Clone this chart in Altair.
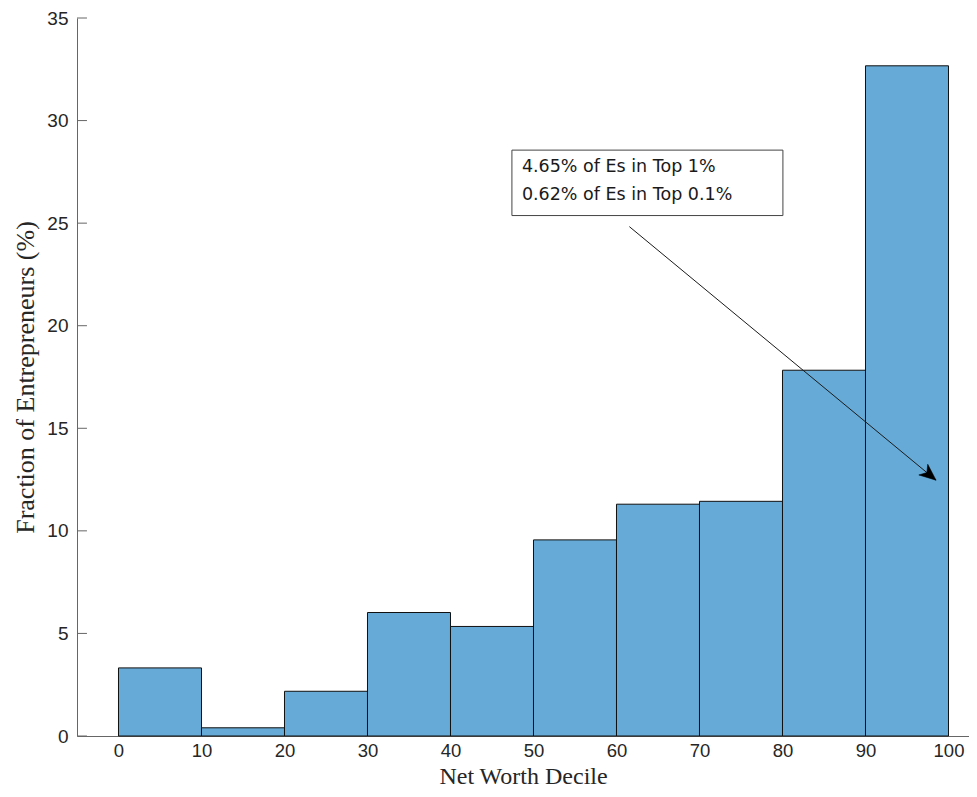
import altair as alt
import pandas as pd

# ---- data ----
bin_start = [0, 10, 20, 30, 40, 50, 60, 70, 80, 90]
bin_end = [10, 20, 30, 40, 50, 60, 70, 80, 90, 100]
fraction = [3.32, 0.40, 2.18, 6.02, 5.34, 9.56, 11.30, 11.44, 17.83, 32.67]

y_ticks = [0, 5, 10, 15, 20, 25, 30, 35]
x_ticks = [0, 10, 20, 30, 40, 50, 60, 70, 80, 90, 100]

note_lines = ["4.65% of Es in Top 1%", "0.62% of Es in Top 0.1%"]
note_y = [27.75, 26.39]
note_x = 48.6
box = {"x": 47.4, "x2": 80.05, "y": 25.37, "y2": 28.56}
arrow = {"x": 61.55, "y": 24.83, "x2": 98.5, "y2": 12.47}

X_DOM = [-5, 102.47]
Y_DOM = [0, 35]

bars_df = pd.DataFrame({"start": bin_start, "end": bin_end, "frac": fraction})
ticks_df = pd.DataFrame({"v": y_ticks, "x0": [X_DOM[0]] * len(y_ticks),
                         "x1": [X_DOM[0] + 1.2] * len(y_ticks)})
note_df = pd.DataFrame({"t": note_lines, "y": note_y, "x": [note_x] * 2})
box_df = pd.DataFrame([box])
arrow_df = pd.DataFrame([arrow])
head_df = pd.DataFrame([{"x": arrow["x2"], "y": arrow["y2"]}])

xs = alt.Scale(domain=X_DOM, nice=False, zero=False)
ys = alt.Scale(domain=Y_DOM, nice=False, zero=False)

sans = "Liberation Sans"
serif = "Liberation Serif"

bars = alt.Chart(bars_df).mark_rect(
    fill="#66AAD7", stroke="#111111", strokeWidth=1
).encode(
    x=alt.X("start:Q", scale=xs, axis=alt.Axis(
        title="Net Worth Decile", values=x_ticks, grid=False, ticks=False,
        domainColor="#666666", labelFont=sans, labelFontSize=18.5,
        labelColor="#262626", labelPadding=5.5, titleFont=serif,
        titleFontSize=24, titleFontWeight="normal", titleColor="#262626",
        titleBaseline="alphabetic", titleY=47.8)),
    x2="end:Q",
    y=alt.Y("frac:Q", scale=ys, axis=alt.Axis(
        title="Fraction of Entrepreneurs (%)", values=y_ticks, grid=False,
        ticks=False, domainColor="#666666", labelFont=sans, labelFontSize=19,
        labelColor="#262626", labelPadding=9, titleFont=serif,
        titleFontSize=26, titleFontWeight="normal", titleColor="#262626",
        titleBaseline="alphabetic", titleAngle=270, titleX=-44)),
    y2=alt.datum(0),
)

yticks = alt.Chart(ticks_df).mark_rule(color="#666666", strokeWidth=1).encode(
    x=alt.X("x0:Q", scale=xs), x2="x1:Q", y=alt.Y("v:Q", scale=ys)
)

arrow_line = alt.Chart(arrow_df).mark_rule(color="#1a1a1a", strokeWidth=1).encode(
    x=alt.X("x:Q", scale=xs), x2="x2:Q", y=alt.Y("y:Q", scale=ys), y2="y2:Q"
)

head = alt.Chart(head_df).mark_point(
    shape="M0,0 L-1,-0.42 L-0.72,0 L-1,0.42 Z", filled=True, fill="#000000",
    stroke="#000000", strokeWidth=0.5, opacity=1, size=1100, angle=39.7
).encode(x=alt.X("x:Q", scale=xs), y=alt.Y("y:Q", scale=ys))

note_box = alt.Chart(box_df).mark_rect(
    fill="white", stroke="#444444", strokeWidth=1
).encode(x=alt.X("x:Q", scale=xs), x2="x2:Q", y=alt.Y("y:Q", scale=ys), y2="y2:Q")

note_text = alt.Chart(note_df).mark_text(
    align="left", baseline="middle", font="DejaVu Sans", fontSize=17.5,
    color="#1a1a1a"
).encode(x=alt.X("x:Q", scale=xs), y=alt.Y("y:Q", scale=ys), text="t:N")

chart = alt.layer(bars, yticks, arrow_line, head, note_box, note_text).properties(
    width=892, height=718,
    autosize=alt.AutoSizeParams(type="none"),
    padding={"left": 69, "top": 10, "right": 0, "bottom": 53},
).configure_view(stroke=None)

chart.save("out.html", embed_options={"renderer": "svg", "actions": False})
